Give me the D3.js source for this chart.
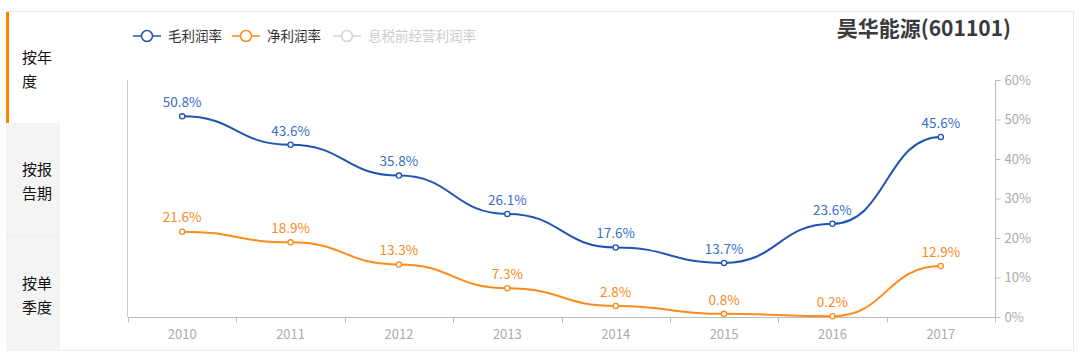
<!DOCTYPE html>
<html><head><meta charset="utf-8">
<script src="https://cdn.jsdelivr.net/npm/d3@7"></script>
<style>body{margin:0;background:#fff;}svg{display:block;font-family:"Noto Sans CJK SC","Noto Sans",sans-serif;}</style>
</head><body><svg id="c" width="1081" height="357"></svg>
<script>
const years = ["2010","2011","2012","2013","2014","2015","2016","2017"];
const grossMargin = [50.8, 43.6, 35.8, 26.1, 17.6, 13.7, 23.6, 45.6];
const netMargin = [21.6, 18.9, 13.3, 7.3, 2.8, 0.8, 0.2, 12.9];
const yTicks = [0, 10, 20, 30, 40, 50, 60];
const legendNames = ["毛利润率", "净利润率", "息税前经营利润率"];
const tabs = [["按年","度"],["按报","告期"],["按单","季度"]];
const title = "昊华能源(601101)";

const svg = d3.select("#c");
// frame
svg.append("rect").attr("x",6.5).attr("y",11.5).attr("width",1067).attr("height",338.5)
  .attr("fill","#fff").attr("stroke","#e6e6e6");
// sidebar tabs
const tabY = [12, 123, 237, 350];
svg.append("rect").attr("x",6).attr("y",123).attr("width",54).attr("height",227).attr("fill","#f4f4f4");
svg.append("line").attr("x1",6).attr("x2",60).attr("y1",236.5).attr("y2",236.5).attr("stroke","#ebebeb");
svg.append("rect").attr("x",6).attr("y",12).attr("width",3).attr("height",111).attr("fill","#ff8400");
tabs.forEach((t,i)=>{
  const cy = (tabY[i]+tabY[i+1])/2;
  t.forEach((s,j)=>{
    svg.append("text").attr("x",22).attr("y",cy - 10 + j*24).attr("dy","0.35em")
      .attr("font-size",15).attr("fill","#111").text(s);
  });
});

const x = d3.scaleBand().domain(years).range([128, 995]);
const y = d3.scaleLinear().domain([0, 60]).range([317, 80]);

// left axis line
svg.append("line").attr("x1",127.5).attr("x2",127.5).attr("y1",80).attr("y2",317).attr("stroke","#ccc");
// right axis
const yAxis = d3.axisRight(y).tickValues(yTicks).tickFormat(d=>d+"%").tickSize(5).tickPadding(4);
const gy = svg.append("g").attr("transform","translate(995.5,0)").call(yAxis);
gy.selectAll("path,line").attr("stroke","#bbb");
gy.select(".domain").attr("d","M0,80V317");
gy.selectAll("text").attr("fill","#aaa").attr("font-size",13).attr("font-family",'"Noto Sans CJK SC","Noto Sans",sans-serif');
// x axis
const xAxis = d3.axisBottom(x).tickSize(0).tickPadding(12);
const gx = svg.append("g").attr("transform","translate(0,317.5)").call(xAxis);
gx.select(".domain").attr("stroke","#bbb").attr("d","M128,0H995");
gx.selectAll("text").attr("fill","#aaa").attr("font-size",13).attr("font-family",'"Noto Sans CJK SC","Noto Sans",sans-serif');
const bounds = years.map(d=>x(d)).concat([995]);
gx.selectAll(".bnd").data(bounds).enter().append("line")
  .attr("x1",d=>Math.round(d)+0.5).attr("x2",d=>Math.round(d)+0.5).attr("y1",0).attr("y2",5).attr("stroke","#bbb");

const cx = d => x(d) + x.bandwidth()/2;
const series = [
  {vals: grossMargin, line:"#1f54b4", label:"#3a6dc8"},
  {vals: netMargin, line:"#fd8a1c", label:"#f98b24"}
];
const lineGen = d3.line().x((d,i)=>cx(years[i])).y(d=>y(d)).curve(d3.curveBumpX);
series.forEach(s=>{
  svg.append("path").attr("d", lineGen(s.vals)).attr("fill","none").attr("stroke",s.line).attr("stroke-width",2);
  svg.selectAll(null).data(s.vals).enter().append("circle")
    .attr("cx",(d,i)=>cx(years[i])).attr("cy",d=>y(d)).attr("r",2.6)
    .attr("fill","#fff").attr("stroke",s.line).attr("stroke-width",1.3);
  svg.selectAll(null).data(s.vals).enter().append("text")
    .attr("x",(d,i)=>cx(years[i])).attr("y",d=>y(d)-14).attr("dy","0.35em")
    .attr("text-anchor","middle").attr("font-size",13.5).attr("fill",s.label)
    .text(d=>d.toFixed(1)+"%");
});

// legend
const legendColors = ["#1f54b4","#fd8a1c","#d4d4d4"];
const legendText = ["#333","#333","#ccc"];
const legendX = [133, 232, 333];
legendNames.forEach((n,i)=>{
  const g = svg.append("g").attr("transform",`translate(${legendX[i]},36)`);
  g.append("line").attr("x1",0).attr("x2",28).attr("y1",0).attr("y2",0).attr("stroke",legendColors[i]).attr("stroke-width",1.5);
  g.append("circle").attr("cx",14).attr("cy",0).attr("r",5.5).attr("fill","#fff").attr("stroke",legendColors[i]).attr("stroke-width",1.5);
  g.append("text").attr("x",35).attr("y",0).attr("dy","0.35em").attr("font-size",13.5).attr("fill",legendText[i]).text(n);
});

svg.append("text").attr("x",1011).attr("y",29).attr("dy","0.35em").attr("text-anchor","end")
  .attr("font-size",21).attr("font-weight","bold").attr("fill","#3a3a3a").text(title);
</script></body></html>
